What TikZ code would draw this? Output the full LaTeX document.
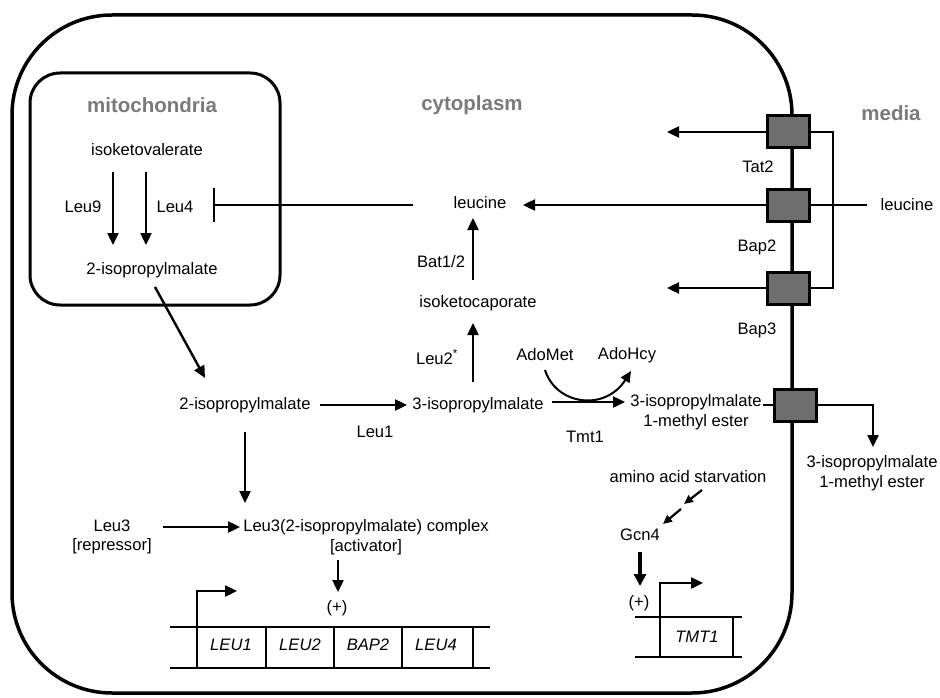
\documentclass[tikz,border=0pt]{standalone}
\usepackage{fontspec}
\setmainfont{Liberation Sans}
\usetikzlibrary{arrows.meta}
\definecolor{boxgray}{HTML}{6E6E6E}
\definecolor{regiongray}{HTML}{7A7A7A}
\begin{document}
\begin{tikzpicture}[x=1pt,y=-1pt,
  lbl/.style={font=\fontsize{16.6}{19.5}\selectfont, inner sep=1pt, align=center},
  region/.style={font=\fontsize{20.5}{24}\selectfont\bfseries, text=regiongray, inner sep=1pt},
  gene/.style={font=\fontsize{16.6}{19}\selectfont\itshape, inner sep=1pt},
  arr/.style={line width=2.4pt, -{Triangle[length=12pt,width=11pt]}},
  sarr/.style={line width=2.2pt, -{Triangle[length=9pt,width=8pt]}},
  barr/.style={line width=3.2pt, -{Triangle[length=12pt,width=12pt]}},
  tbox/.style={draw, line width=3pt, fill=boxgray, minimum width=42pt, minimum height=32pt, inner sep=0pt},
  gl/.style={line width=2.8pt},
  thin/.style={line width=1.7pt}]
\useasboundingbox (0,0) rectangle (940,698);

% cell and mitochondria
\draw[line width=3.5pt, rounded corners=100pt] (12,15) rectangle (792,693);
\draw[line width=3pt, rounded corners=30pt] (30,73) rectangle (280,305);

% region labels
\node[region] (mito) at (152,105) {mitochondria};
\node[region] (cyto) at (472,105) {cytoplasm};
\node[region] (media) at (891,113) {media};

% mitochondria content
\node[lbl] (ikv) at (147,150) {isoketovalerate};
\node[lbl] (leu9) at (83,207) {Leu9};
\node[lbl] (leu4) at (175,207) {Leu4};
\node[lbl] (ipmM) at (152,270) {2-isopropylmalate};
\coordinate (l9a) at (113,172); \coordinate (l9b) at (113,245);
\coordinate (l4a) at (146,172); \coordinate (l4b) at (146,245);
\draw[arr] (l9a) -- (l9b);
\draw[arr] (l4a) -- (l4b);

% cytoplasm leucine branch
\node[lbl] (leuC) at (480,203) {leucine};
\node[lbl] (bat) at (441,262) {Bat1/2};
\node[lbl] (ikc) at (478,303) {isoketocaporate};
\node[lbl] (leu2) at (437,357) {Leu2\textsuperscript{*}};
\coordinate (inhA) at (413,205); \coordinate (inhB) at (213,205);
\draw[line width=2.4pt, -{Bar[width=34pt,line width=2.4pt]}] (inhA) -- (inhB);
\coordinate (batA) at (473,280); \coordinate (batB) at (473,218);
\draw[arr] (batA) -- (batB);
\coordinate (l2A) at (473,382); \coordinate (l2B) at (473,323);
\draw[arr] (l2A) -- (l2B);

% main row
\node[lbl] (ipmC) at (245,405) {2-isopropylmalate};
\node[lbl] (ipm3) at (478,405) {3-isopropylmalate};
\node[lbl] (leu1) at (375,432) {Leu1};
\node[lbl] (adomet) at (545,355) {AdoMet};
\node[lbl] (adohcy) at (627,355) {AdoHcy};
\node[lbl] (tmt1) at (585,437) {Tmt1};
\node[lbl] (ester) at (696,412) {3-isopropylmalate\\1-methyl ester};
\coordinate (dgA) at (155,287); \coordinate (dgB) at (205,378);
\draw[arr] (dgA) -- (dgB);
\coordinate (l1A) at (320,405); \coordinate (l1B) at (407,405);
\draw[arr] (l1A) -- (l1B);
\coordinate (tmA) at (552,402); \coordinate (tmB) at (625,402);
\draw[arr] (tmA) -- (tmB);
\coordinate (cvA) at (545,370); \coordinate (cvB) at (631,371);
\draw[line width=2pt, -{Triangle[length=11pt,width=10pt]}] (cvA) .. controls (556,405) and (605,412) .. (cvB);

% transporters
\node[tbox] (tat2) at (788,132) {};
\node[tbox] (bap2) at (788,205) {};
\node[tbox] (bap3) at (788,288) {};
\node[tbox] (exp) at (795,405) {};
\node[lbl] (tat2l) at (758,167) {Tat2};
\node[lbl] (bap2l) at (757,247) {Bap2};
\node[lbl] (bap3l) at (757,330) {Bap3};
\node[lbl] (leuM) at (907,205) {leucine};
\coordinate (brk) at (833,210);
\draw[thin] (tat2.east) -| (brk) |- (bap3.east);
\coordinate (leuMend) at (867,205);
\draw[line width=2.4pt] (bap2.east) -- (leuMend);
\coordinate (impT) at (523,205);
\draw[arr] (bap2.west) -- (impT);
\coordinate (outT1) at (667,132); \coordinate (outT3) at (667,288);
\draw[arr] (tat2.west) -- (outT1);
\draw[arr] (bap3.west) -- (outT3);
\coordinate (estEnd) at (763,405);
\draw[line width=2.4pt] (estEnd) -- (exp.west);
\coordinate (expCorner) at (873,405); \coordinate (expTip) at (873,447);
\draw[arr] (exp.east) -- (expCorner) -- (expTip);
\node[lbl] (esterM) at (872,473) {3-isopropylmalate\\1-methyl ester};

% Leu3 regulation
\coordinate (dnA) at (245,432); \coordinate (dnB) at (245,503);
\draw[arr] (dnA) -- (dnB);
\node[lbl] (leu3) at (112,537) {Leu3\\{}[repressor]};
\node[lbl] (cplx) at (366,537) {Leu3(2-isopropylmalate) complex\\{}[activator]};
\coordinate (l3A) at (163,527); \coordinate (l3B) at (240,527);
\draw[arr] (l3A) -- (l3B);
\coordinate (acA) at (338,560); \coordinate (acB) at (338,592);
\draw[arr] (acA) -- (acB);
\node[lbl] (plus1) at (337,608) {(+)};

% gene cluster
\draw[gl] (170,627) -- (490,627);
\draw[gl] (170,668) -- (490,668);
\foreach \gx in {197,266,334,402,473} { \draw[gl] (\gx,627) -- (\gx,668); }
\node[gene] (g1) at (231,645) {LEU1};
\node[gene] (g2) at (300,645) {LEU2};
\node[gene] (g3) at (368,645) {BAP2};
\node[gene] (g4) at (436,645) {LEU4};
\coordinate (pr1) at (197,627); \coordinate (pr1t) at (237,591);
\draw[arr] (pr1) |- (pr1t);

% Gcn4 / TMT1
\node[lbl] (starv) at (688,477) {amino acid starvation};
\node[lbl] (gcn4) at (640,535) {Gcn4};
\coordinate (sA) at (702,490); \coordinate (sB) at (684,504);
\coordinate (sC) at (681,509); \coordinate (sD) at (663,524);
\draw[sarr] (sA) -- (sB);
\draw[sarr] (sC) -- (sD);
\coordinate (gcA) at (640,552); \coordinate (gcB) at (640,586);
\draw[barr] (gcA) -- (gcB);
\node[lbl] (plus2) at (639,603) {(+)};
\draw[gl] (635,617) -- (742,617);
\draw[gl] (635,657) -- (742,657);
\draw[gl] (660,617) -- (660,657);
\draw[gl] (733,617) -- (733,657);
\node[gene] (g5) at (697,637) {TMT1};
\coordinate (pr2) at (660,617); \coordinate (pr2t) at (703,583);
\draw[arr] (pr2) |- (pr2t);
\end{tikzpicture}
\end{document}
